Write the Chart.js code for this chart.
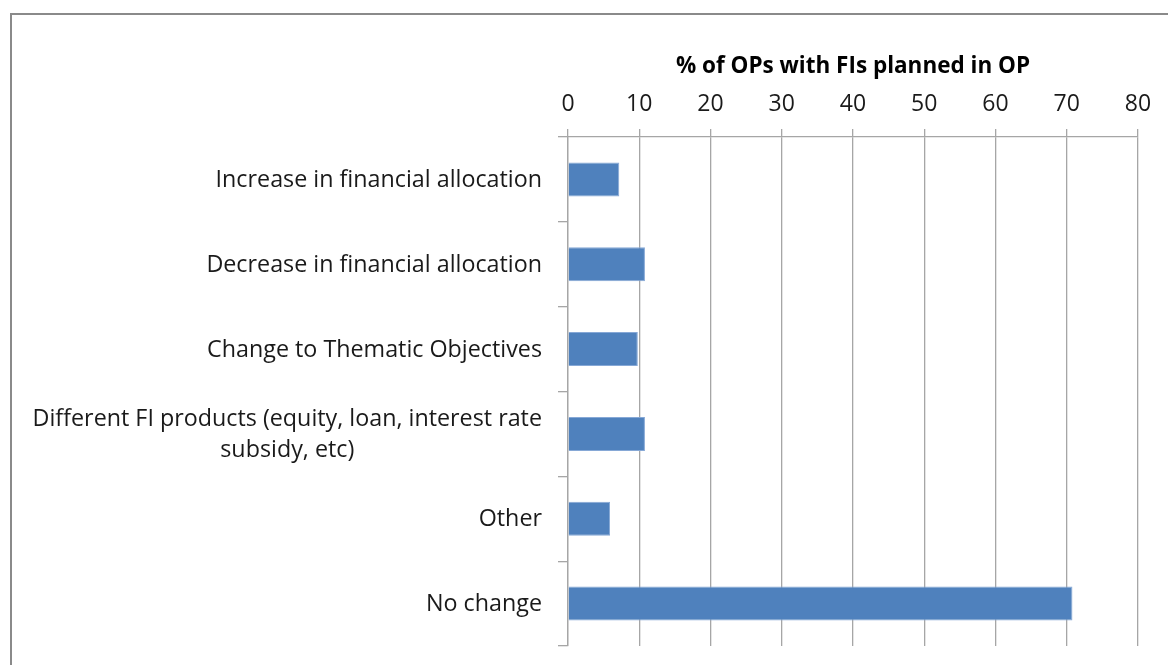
<!DOCTYPE html>
<html>
<head>
<meta charset="utf-8">
<script src="https://cdn.jsdelivr.net/npm/chart.js@4.4.1/dist/chart.umd.min.js"></script>
<style>
  html, body { margin: 0; padding: 0; background: #fff; overflow: hidden; }
  #wrap { position: relative; width: 1168px; height: 665px; }
  #frame { position: absolute; left: 10px; top: 13px; width: 1200px; height: 700px; border: 2px solid #8a8a8a; box-sizing: border-box; pointer-events: none; }
  canvas { position: absolute; left: 0; top: 0; }
</style>
</head>
<body>
<div id="wrap">
  <div id="frame"></div>
  <canvas id="chart" width="1168" height="665"></canvas>
</div>
<script>
const categories = [
  ["Increase in financial allocation"],
  ["Decrease in financial allocation"],
  ["Change to Thematic Objectives"],
  ["Different FI products (equity, loan, interest rate", "subsidy, etc)"],
  ["Other"],
  ["No change"]
];
const shareOfOPs = [7.2, 10.8, 9.8, 10.8, 5.9, 70.8];
const xTicks = [0, 10, 20, 30, 40, 50, 60, 70, 80];

const FONT = "'Open Sans', 'Noto Sans', sans-serif";
const gridGrey = "#a6a6a6";

// y labels: right-aligned block, lines centred on the widest line (Excel style)
const yLabels = {
  id: "yLabels",
  afterDraw(chart) {
    const ctx = chart.ctx;
    const y = chart.scales.y;
    const right = y.right - 26;
    const lh = 31;
    ctx.save();
    ctx.font = "23.3px " + FONT;
    ctx.fillStyle = "#1a1a1a";
    ctx.textAlign = "center";
    ctx.textBaseline = "middle";
    categories.forEach((lines, i) => {
      const w = Math.max(...lines.map(l => ctx.measureText(l).width));
      const cx = right - w / 2;
      const cy = y.getPixelForTick(i) + 1;
      lines.forEach((l, j) => {
        ctx.fillText(l, cx, cy + (j - (lines.length - 1) / 2) * lh);
      });
    });
    ctx.restore();
  }
};

new Chart(document.getElementById("chart"), {
  type: "bar",
  data: {
    labels: categories,
    datasets: [{
      data: shareOfOPs,
      backgroundColor: "#4f81bd",
      borderColor: "#86a8d6",
      borderWidth: 1,
      barPercentage: 0.4,
      categoryPercentage: 1
    }]
  },
  options: {
    indexAxis: "y",
    responsive: false,
    animation: false,
    layout: { padding: { top: 38, right: 30, bottom: 19, left: 0 } },
    plugins: {
      legend: { display: false },
      tooltip: { enabled: false }
    },
    scales: {
      x: {
        position: "top",
        min: 0,
        max: 80,
        afterBuildTicks: (s) => { s.ticks = xTicks.map(v => ({ value: v })); },
        afterFit: (s) => { s.height = 137 - 38; },
        grid: { color: gridGrey, tickLength: 8, lineWidth: 1.3 },
        border: { color: gridGrey, width: 1.3 },
        ticks: {
          padding: 11,
          color: "#1a1a1a",
          font: { family: FONT, size: 23 }
        },
        title: {
          display: true,
          text: "% of OPs with FIs planned in OP",
          color: "#000",
          font: { family: FONT, size: 22.5, weight: "bold" },
          padding: { top: 15, bottom: 0 }
        }
      },
      y: {
        afterFit: (s) => { s.width = 568; },
        grid: { drawOnChartArea: false, color: gridGrey, tickLength: 10, lineWidth: 1.3, offset: true },
        border: { color: gridGrey, width: 1.3 },
        ticks: { display: false }
      }
    }
  },
  plugins: [yLabels]
});
</script>
</body>
</html>
